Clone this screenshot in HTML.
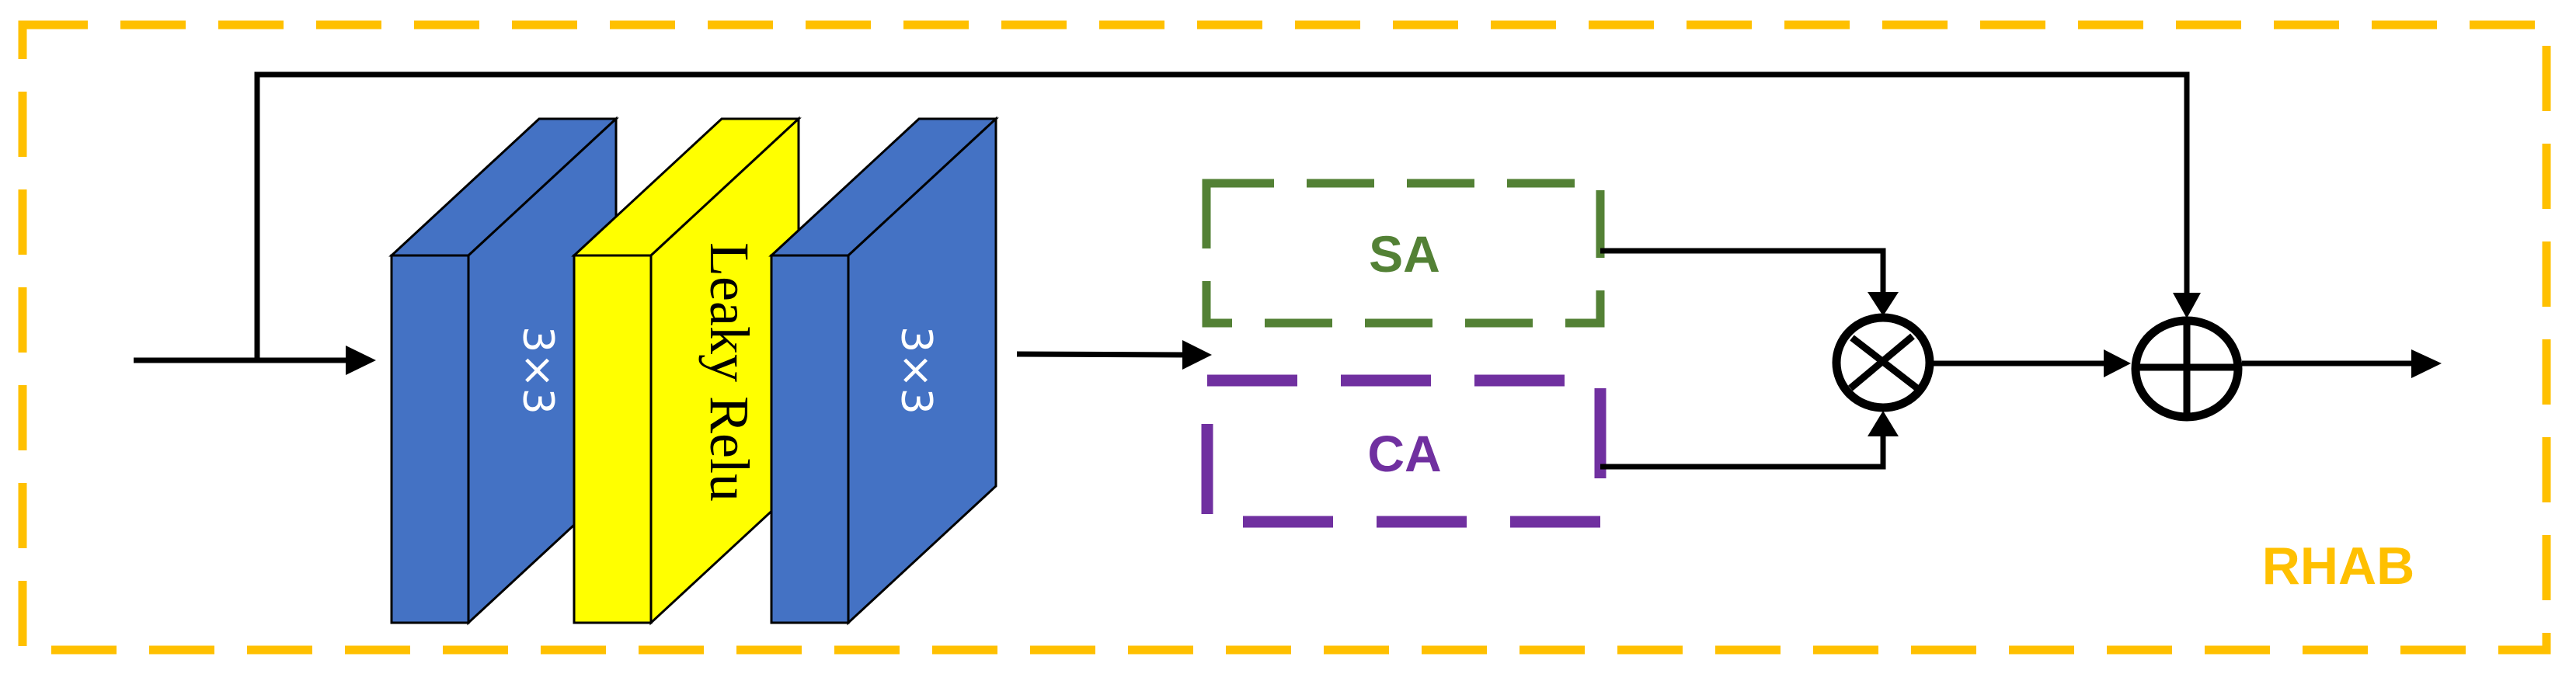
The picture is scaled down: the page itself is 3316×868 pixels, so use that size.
<!DOCTYPE html>
<html><head><meta charset="utf-8"><style>
html,body{margin:0;padding:0;background:#fff;}
svg{display:block;}
</style></head><body>
<svg width="3316" height="868" viewBox="0 0 3316 868" xmlns="http://www.w3.org/2000/svg">
<defs>
<marker id="ah" markerWidth="10" markerHeight="10" refX="10" refY="5" orient="auto" markerUnits="userSpaceOnUse" viewBox="0 0 10 10"></marker>
</defs>
<!-- outer orange dashed -->
<rect x="29" y="32" width="3249" height="805" fill="none" stroke="#FFC000" stroke-width="11" stroke-dasharray="84 42"/>

<!-- skip line -->
<polyline points="331,464 331,96 2815,96 2815,380" fill="none" stroke="#000" stroke-width="7"/>
<polygon points="2797,377 2833,377 2815,410" fill="#000"/>

<!-- input arrow -->
<line x1="172" y1="464" x2="450" y2="464" stroke="#000" stroke-width="7"/>
<polygon points="445,445 484,464 445,483" fill="#000"/>

<!-- block 1 -->
<g stroke="#000" stroke-width="3" stroke-linejoin="miter">
<polygon points="504,329 694,153 793,153 603,329" fill="#4472C4"/>
<polygon points="603,329 793,153 793,626 603,802" fill="#4472C4"/>
<rect x="504" y="329" width="99" height="473" fill="#4472C4"/>
<!-- yellow -->
<polygon points="739,329 929,153 1028,153 838,329" fill="#FFFF00"/>
<polygon points="838,329 1028,153 1028,626 838,802" fill="#FFFF00"/>
<rect x="739" y="329" width="99" height="473" fill="#FFFF00"/>
<!-- block 3 -->
<polygon points="993,329 1183,153 1282,153 1092,329" fill="#4472C4"/>
<polygon points="1092,329 1282,153 1282,626 1092,802" fill="#4472C4"/>
<rect x="993" y="329" width="99" height="473" fill="#4472C4"/>
</g>
<text transform="translate(693,477) rotate(90)" text-anchor="middle" dominant-baseline="central" font-family="'DejaVu Sans',sans-serif" font-size="54" fill="#fff">3×3</text>
<text transform="translate(1180,477) rotate(90)" text-anchor="middle" dominant-baseline="central" font-family="'DejaVu Sans',sans-serif" font-size="54" fill="#fff">3×3</text>
<text transform="translate(939,479) rotate(90)" text-anchor="middle" dominant-baseline="central" font-family="'Liberation Serif',serif" font-size="72" fill="#000">Leaky Relu</text>

<!-- middle arrow -->
<line x1="1309" y1="456" x2="1530" y2="457" stroke="#000" stroke-width="7"/>
<polygon points="1522,438 1560,457 1522,476" fill="#000"/>

<!-- SA box -->
<rect x="1553" y="236" width="507" height="180" fill="none" stroke="#538135" stroke-width="11" stroke-dasharray="87 42"/>
<text x="1808" y="350" text-anchor="middle" font-family="'Liberation Sans',sans-serif" font-weight="bold" font-size="66" fill="#538135">SA</text>
<!-- CA box -->
<rect x="1554" y="490" width="506" height="182" fill="none" stroke="#7030A0" stroke-width="15" stroke-dasharray="116 56"/>
<text x="1808" y="607" text-anchor="middle" font-family="'Liberation Sans',sans-serif" font-weight="bold" font-size="66" fill="#7030A0">CA</text>

<!-- SA to mul -->
<polyline points="2060,323 2424,323 2424,380" fill="none" stroke="#000" stroke-width="7"/>
<polygon points="2404,376 2444,376 2424,407" fill="#000"/>
<!-- CA to mul -->
<polyline points="2060,601 2424,601 2424,555" fill="none" stroke="#000" stroke-width="7"/>
<polygon points="2404,562 2444,562 2424,529" fill="#000"/>

<!-- mul circle -->
<ellipse cx="2424" cy="467" rx="60" ry="58" fill="#fff" stroke="#000" stroke-width="11"/>
<line x1="2384" y1="435" x2="2468" y2="500" stroke="#000" stroke-width="9"/>
<line x1="2462" y1="433" x2="2382" y2="500" stroke="#000" stroke-width="9"/>

<!-- mul to add -->
<line x1="2489" y1="468" x2="2712" y2="468" stroke="#000" stroke-width="7"/>
<polygon points="2708,450 2743,468 2708,486" fill="#000"/>

<!-- add circle -->
<ellipse cx="2815" cy="475" rx="66" ry="62" fill="#fff" stroke="#000" stroke-width="11"/>
<line x1="2749" y1="473" x2="2881" y2="473" stroke="#000" stroke-width="9"/>
<line x1="2815" y1="410" x2="2815" y2="537" stroke="#000" stroke-width="9"/>

<!-- output arrow -->
<line x1="2886" y1="468" x2="3110" y2="468" stroke="#000" stroke-width="7"/>
<polygon points="3104,450 3143,468 3104,487" fill="#000"/>

<text x="3010" y="752" text-anchor="middle" font-family="'Liberation Sans',sans-serif" font-weight="bold" font-size="68" fill="#FFC000">RHAB</text>
</svg>
</body></html>
